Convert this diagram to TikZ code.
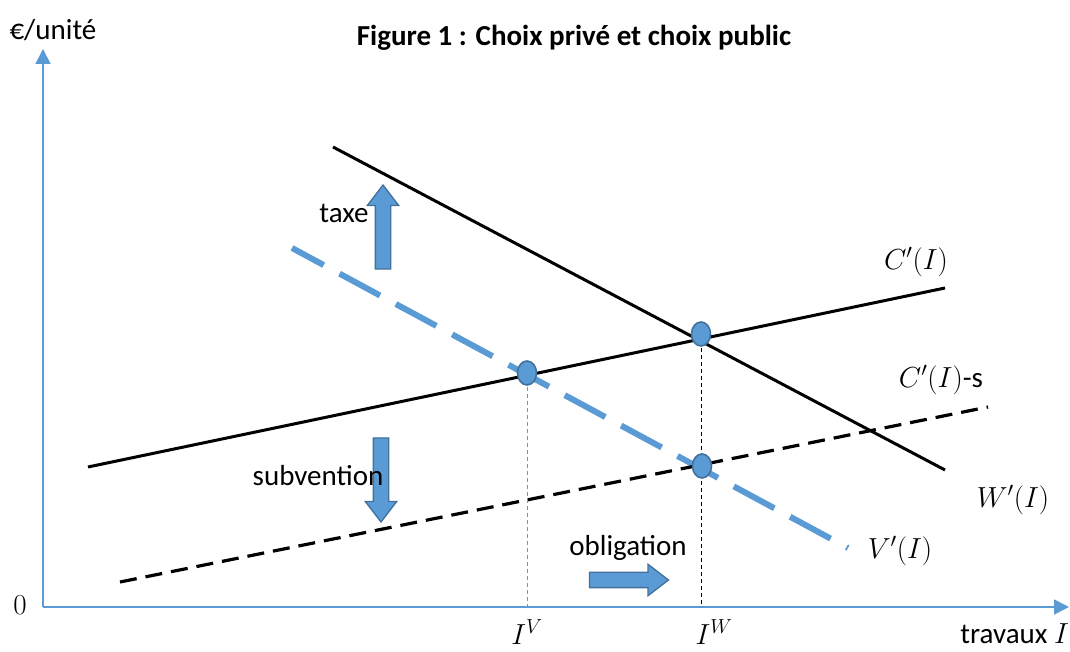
\RequirePackage{fix-cm}
\documentclass[tikz,border=0pt]{standalone}
\usepackage{fontspec}
\setmainfont{Carlito}
\usetikzlibrary{shapes.arrows,shapes.geometric,arrows.meta}
\definecolor{axisblue}{RGB}{91,155,213}
\definecolor{edgeblue}{RGB}{65,113,156}
\tikzset{
  axis/.style={axisblue,line width=1.6pt,-{Triangle[length=15pt,width=15pt]}},
  curve/.style={black,line width=3pt},
  dashcurve/.style={black,line width=3.2pt,dash pattern=on 17pt off 9pt},
  vcurve/.style={axisblue,line width=6pt,dash pattern=on 46pt off 18pt,dash phase=10pt},
  eqpt/.style={ellipse,draw=edgeblue,fill=axisblue,line width=1.6pt,minimum width=19pt,minimum height=24pt,inner sep=0pt},
  blockarrow/.style={single arrow,draw=edgeblue,fill=axisblue,line width=1.3pt,inner sep=7pt,
    single arrow head extend=8pt,single arrow tip angle=75,minimum height=#1},
  every node/.style={font=\fontsize{29}{34}\selectfont}
}
\begin{document}
\begin{tikzpicture}[x=1pt,y=1pt]
\useasboundingbox (0,0) rectangle (1070,652);

% axes
\coordinate (o) at (43,45);
\coordinate (xend) at (1069,45);
\coordinate (yend) at (43,603);
\draw[axis] (o) -- (xend);
\draw[axis] (o) -- (yend);
\node (zero) at (20,47) {$0$};
\node[anchor=west] (ylab) at (6,622) {€/unité};
\node[anchor=east,inner xsep=1pt] (xlab) at (1070,18) {travaux $I$};
\node[font=\fontsize{29}{34}\selectfont\bfseries] (title) at (574,614) {Figure 1 : Choix privé et choix public};

% curves
\coordinate (w1) at (333,505);
\coordinate (w2) at (945,182);
\coordinate (c1) at (88,185);
\coordinate (c2) at (945,364);
\coordinate (s1) at (120,70);
\coordinate (s2) at (988,245);
\coordinate (v1) at (292,404);
\coordinate (v2) at (848,104);
\draw[vcurve] (v1) -- (v2);
\draw[curve] (w1) -- (w2);
\draw[curve] (c1) -- (c2);
\draw[dashcurve] (s1) -- (s2);

% equilibria
\coordinate (qW) at (701,318);
\coordinate (qV) at (527,279);
\coordinate (qS) at (702,186);
\draw[black,line width=1pt,dash pattern=on 4pt off 3pt] (qW) -- (qW |- o);
\draw[axisblue,line width=1pt,dash pattern=on 4pt off 3pt] (qV) -- (qV |- o);
\node[eqpt] (ptW) at (qW) {};
\node[eqpt] (ptV) at (qV) {};
\node[eqpt] (ptS) at (qS) {};

% labels
\node (lc) at (916,390) {$C'(I)$};
\node (ls) at (941,272) {$C'(I)$-s};
\node (lw) at (1013,152) {$W'(I)$};
\node (lv) at (900,101) {$V'(I)$};
\node (liv) at (527,20) {$I^V$};
\node (liw) at (714,20) {$I^W$};

% policy arrows
\node[blockarrow=84pt,rotate=90] (taxe) at (383,420) {};
\node[blockarrow=84pt,rotate=-90] (subv) at (381,177) {};
\node[blockarrow=79pt] (oblig) at (624,72) {};
\node (ltaxe) at (344,439) {taxe};
\node (lsubv) at (318,176) {subvention};
\node (loblig) at (628,104) {obligation};
\end{tikzpicture}
\end{document}
